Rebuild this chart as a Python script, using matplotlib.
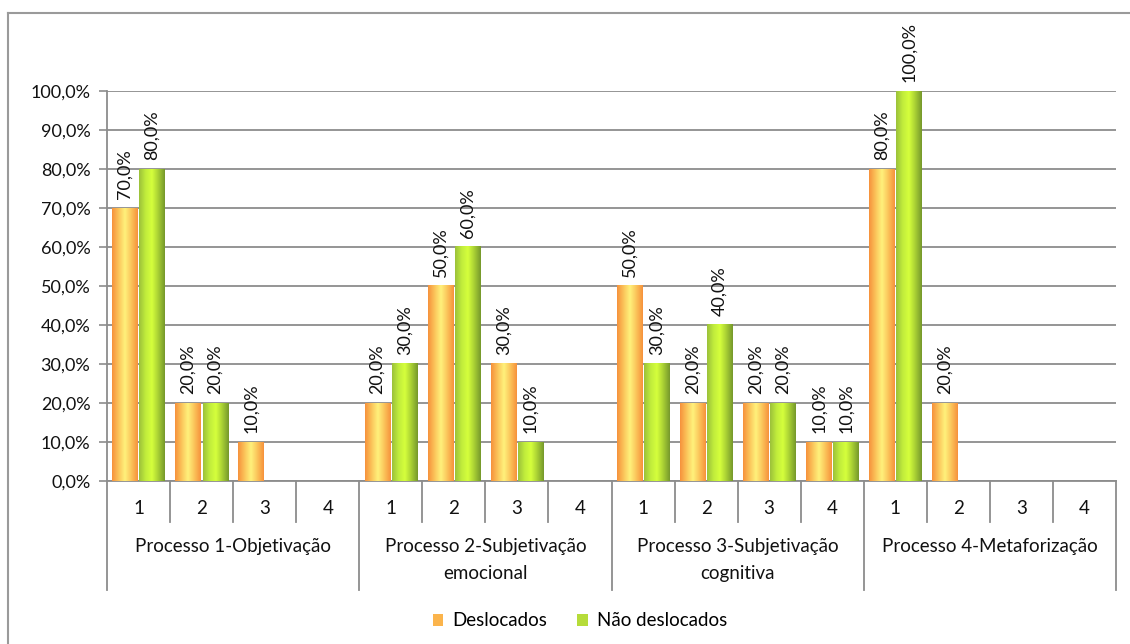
import numpy as np
import matplotlib as mpl
mpl.use('Agg')
from matplotlib import pyplot as plt
from matplotlib.colors import LinearSegmentedColormap
from matplotlib.lines import Line2D
from matplotlib.patches import Patch

# ------------------- Data -------------------
grupos = ['Processo 1-Objetivação', 'Processo 2-Subjetivação\nemocional',
          'Processo 3-Subjetivação\ncognitiva', 'Processo 4-Metaforização']
niveis = ['1', '2', '3', '4']
deslocados = [70, 20, 10, 0,
              20, 50, 30, 0,
              50, 20, 20, 10,
              80, 20, 0, 0]
nao_deslocados = [80, 20, 0, 0,
                  30, 60, 10, 0,
                  30, 40, 20, 10,
                  100, 0, 0, 0]
series = ['Deslocados', 'Não deslocados']

plt.rcParams['font.family'] = ['Lato', 'DejaVu Sans']
W, H = 1130, 644
fig = plt.figure(figsize=(W / 100, H / 100), dpi=100)

def px(x0, y0, x1, y1):
    # pixel box (top-left origin) -> figure fraction rect
    return [x0 / W, 1 - y1 / H, (x1 - x0) / W, (y1 - y0) / H]

ax = fig.add_axes(px(107, 91, 1116, 481))

grid_c = '#8c8c8c'
txt_c = '#111111'
cm_orange = LinearSegmentedColormap.from_list('lar', ['#f6923c', '#fbc45a', '#fff27c', '#fbc45a', '#f6923c'])
cm_green = LinearSegmentedColormap.from_list('ver', ['#9cc13a', '#c0ec3c', '#d6ff3c', '#a8cf34', '#76992c'])
grad = np.linspace(0, 1, 64).reshape(1, -1)

n = len(deslocados)
x = np.arange(n)
bw = 0.40
offs = [0.285, 0.715]

for vals, off, cmap in [(deslocados, offs[0], cm_orange), (nao_deslocados, offs[1], cm_green)]:
    for xi, v in zip(x, vals):
        h = v / 100.0
        if h <= 0:
            continue
        x0 = xi + off - bw / 2
        ax.imshow(grad, cmap=cmap, extent=[x0, x0 + bw, 0, h], aspect='auto', zorder=3)
        ax.text(xi + off, h + 0.022, f'{v},0%', rotation=90, ha='center', va='bottom',
                fontsize=13, color=txt_c, clip_on=False, zorder=4)

ax.set_xlim(0, n)
ax.set_ylim(0, 1)
ax.set_yticks(np.arange(0, 1.01, 0.1))
ax.set_yticklabels([f'{v},0%' for v in range(0, 101, 10)], fontsize=13, color=txt_c)
ax.yaxis.grid(True, color=grid_c, linewidth=1.3, zorder=0)
ax.set_axisbelow(True)
ax.tick_params(axis='y', length=6, width=1.2, color=grid_c, pad=6)
ax.set_xticks([])
for s in ['top', 'right']:
    ax.spines[s].set_visible(False)
ax.spines['left'].set_color(grid_c)
ax.spines['left'].set_linewidth(1.3)
ax.spines['bottom'].set_color(grid_c)
ax.spines['bottom'].set_linewidth(1.3)

# category axis drawn below the plot (two levels)
tr = ax.get_xaxis_transform()
y_sub = -41 / 390.0
y_grp = -109 / 390.0
for i in range(n + 1):
    y_end = y_grp if i % 4 == 0 else y_sub
    ax.add_line(Line2D([i, i], [0, y_end], transform=tr, color=grid_c, lw=1.3, clip_on=False))
for i in range(n):
    ax.text(i + 0.5, -27 / 390.0, niveis[i % 4], transform=tr, ha='center', va='center',
            fontsize=13.5, color=txt_c)
for g, nome in enumerate(grupos):
    ax.text(g * 4 + 2, -57 / 390.0, nome, transform=tr, ha='center', va='top',
            fontsize=13.5, color=txt_c, linespacing=1.7)

# outer chart frame
fig.add_artist(Line2D([8 / W, 1], [1 - 13 / H, 1 - 13 / H], color='#9a9a9a', lw=1.5))
fig.add_artist(Line2D([8 / W, 8 / W], [0, 1 - 13 / H], color='#9a9a9a', lw=1.5))

handles = [Patch(facecolor='#fbb44c', edgecolor='none'), Patch(facecolor='#b6dc3a', edgecolor='none')]
fig.legend(handles, series, loc='center', bbox_to_anchor=(580 / W, 1 - 621 / H), ncol=2,
           frameon=False, fontsize=13.5, handlelength=0.55, handleheight=0.55,
           handletextpad=0.5, columnspacing=1.6)

plt.savefig('out.png', dpi=100)
